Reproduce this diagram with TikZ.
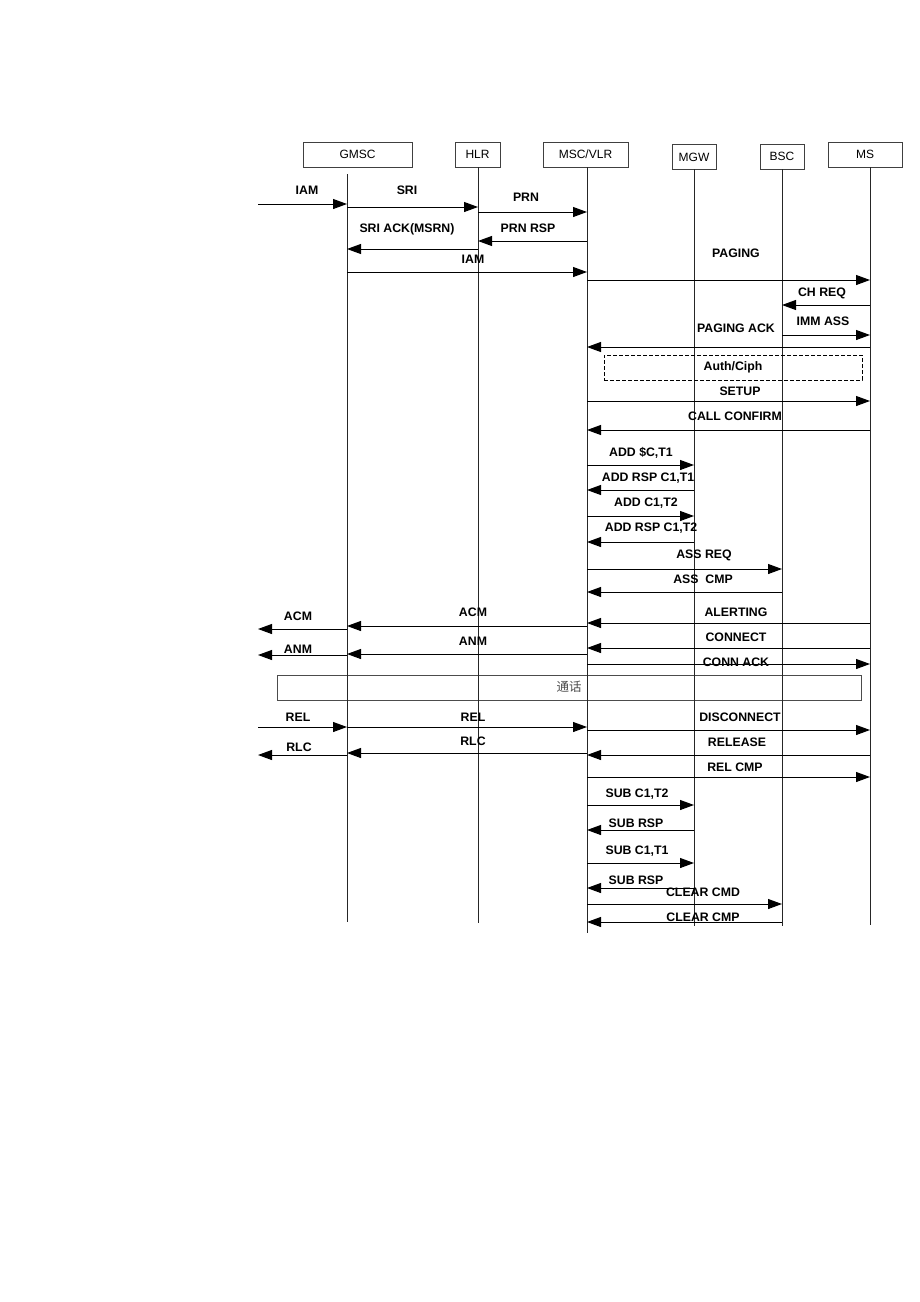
\documentclass[tikz,border=0pt]{standalone}
\usepackage{fontspec}
\setmainfont{Liberation Sans}
\newfontfamily\cjk{Noto Sans CJK SC}
\usepackage{tikz}
\usetikzlibrary{arrows.meta}
\tikzset{
  ent_box/.style = {draw=black!75, line width=0.8pt, minimum height=25pt,
    inner sep=0pt, font=\fontsize{12}{12}\selectfont},   % entity header
  life_ln/.style = {draw=black!85, line width=1pt},       % lifeline
  msg_ln/.style  = {->, draw=black, line width=1pt},      % message arrow
  msg_lbl/.style = {inner sep=0pt, text height=8.8pt, text depth=0pt,
    font=\fontsize{12.3}{12}\selectfont\bfseries}        % message text
}

\begin{document}
\begin{tikzpicture}[x=1pt, y=-1pt, >={Triangle[length=14pt,width=10pt]}]
  \useasboundingbox (0,0) rectangle (920,1302);

  % entities
  \node [ent_box, minimum width=109pt] (gmsc) at (357.5,154.5) {GMSC};
  \node [ent_box, minimum width=45pt]  (hlr)  at (477.5,154.5) {HLR};
  \node [ent_box, minimum width=85pt]  (vlr)  at (585.5,154.5) {MSC/VLR};
  \node [ent_box, minimum width=44pt]  (mgwb) at (694,157)     {MGW};
  \node [ent_box, minimum width=44pt]  (bscb) at (782,156.5)   {BSC};
  \node [ent_box, minimum width=74pt]  (msb)  at (865,154.5)   {MS};

  % speech phase box (under the lifelines)
  \node [draw=black!70, line width=0.8pt, minimum width=584pt, minimum height=25pt,
    inner sep=0pt] (talk) at (569,687.5) {};
  \node [inner sep=0pt, text=black!70, font=\cjk\fontsize{12.5}{12}\selectfont]
    (talk_t) at (569,687) {通话};

  % lifelines
  \coordinate (ext) at (258,174);
  \coordinate (gm)  at (347,174);  \coordinate (gm_e)  at (347,922);
  \coordinate (hl)  at (478,167);  \coordinate (hl_e)  at (478,923);
  \coordinate (msc) at (587,167);  \coordinate (msc_e) at (587,933);
  \coordinate (mgw) at (694,169);  \coordinate (mgw_e) at (694,926);
  \coordinate (bsc) at (782,169);  \coordinate (bsc_e) at (782,926);
  \coordinate (ms)  at (870,167);  \coordinate (ms_e)  at (870,925);
  \foreach \l in {gm,hl,msc,mgw,bsc,ms}
    \draw [life_ln] (\l) -- (\l_e);

  % Auth/Ciph
  \node [draw=black, dashed, dash pattern=on 4pt off 2pt, line width=0.8pt,
    minimum width=258pt, minimum height=25pt, inner sep=0pt] (auth) at (733,367.5) {};
  \node [msg_lbl] (auth_t) at (733,366) {Auth/Ciph};

  % messages: y / from / to / text / label x / label y
  \foreach \y/\src/\dst/\txt/\lx/\ly [count=\i] in {
      204/ext/gm/IAM/307/190,
      207/gm/hl/SRI/407/190,
      212/hl/msc/PRN/526/197,
      241/msc/hl/{PRN RSP}/528/228,
      249/hl/gm/{SRI ACK(MSRN)}/407/228,
      272/gm/msc/IAM/473/259,
      280/msc/ms/PAGING/736/253,
      305/ms/bsc/{CH REQ}/822/292,
      335/bsc/ms/{IMM ASS}/823/321,
      347/ms/msc/{PAGING ACK}/736/328,
      401/msc/ms/SETUP/740/391,
      430/ms/msc/{CALL CONFIRM}/735/416,
      465/msc/mgw/{ADD \$C,T1}/641/452,
      490/mgw/msc/{ADD RSP C1,T1}/648/477,
      516/msc/mgw/{ADD C1,T2}/646/502,
      542/mgw/msc/{ADD RSP C1,T2}/651/527,
      569/msc/bsc/{ASS REQ}/704/554,
      592/bsc/msc/{ASS\ \ CMP}/703/579,
      629/gm/ext/ACM/298/616,
      626/msc/gm/ACM/473/612,
      623/ms/msc/ALERTING/736/612,
      655/gm/ext/ANM/298/649,
      654/msc/gm/ANM/473/641,
      648/ms/msc/CONNECT/736/637,
      664/msc/ms/{CONN ACK}/736/662,
      727/ext/gm/REL/298/717,
      727/gm/msc/REL/473/717,
      730/msc/ms/DISCONNECT/740/717,
      755/ms/msc/RELEASE/737/742,
      755/gm/ext/RLC/299/747,
      753/msc/gm/RLC/473/741,
      777/msc/ms/{REL CMP}/735/767,
      805/msc/mgw/{SUB C1,T2}/637/793,
      830/mgw/msc/{SUB RSP}/636/823,
      863/msc/mgw/{SUB C1,T1}/637/850,
      888/mgw/msc/{SUB RSP}/636/880,
      904/msc/bsc/{CLEAR CMD}/703/892,
      922/bsc/msc/{CLEAR CMP}/703/917}
  {
    \draw [msg_ln] (\src |- 0,\y) -- (\dst |- 0,\y);
    \node [msg_lbl] (lbl\i) at (\lx,\ly) {\txt};
  }
\end{tikzpicture}
\end{document}
